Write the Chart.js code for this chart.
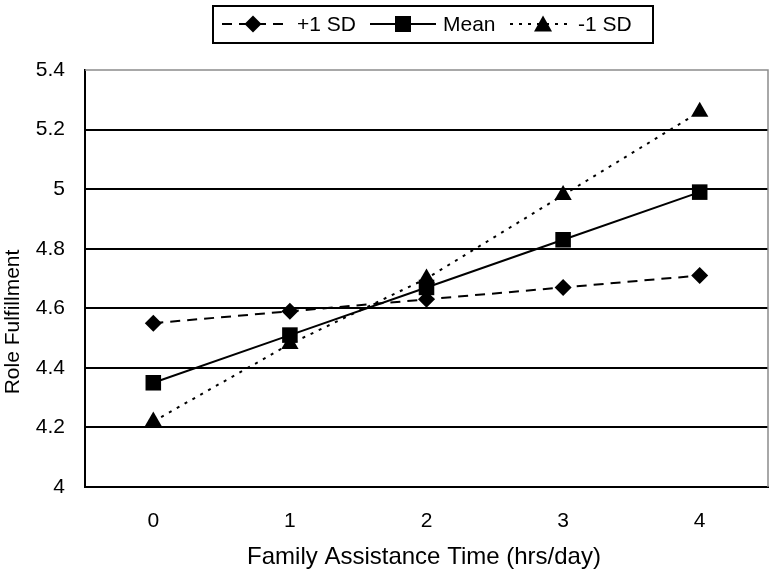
<!DOCTYPE html>
<html><head><meta charset="utf-8">
<script src="https://cdn.jsdelivr.net/npm/chart.js@4/dist/chart.umd.min.js"></script>
<style>html,body{margin:0;padding:0;background:#fff}#wrap{width:779px;height:582px}</style>
</head><body><div id="wrap"><canvas id="c" width="779" height="582"></canvas></div>
<script>
const categories = ['0', '1', '2', '3', '4'];
const plusSD = [4.55, 4.59, 4.63, 4.67, 4.71];
const meanVals = [4.35, 4.51, 4.67, 4.83, 4.99];
const minusSD = [4.22, 4.48, 4.70, 4.98, 5.26];
const seriesNames = ['+1 SD', 'Mean', '-1 SD'];
const yTicks = [4, 4.2, 4.4, 4.6, 4.8, 5, 5.2, 5.4];
const xTitle = 'Family Assistance Time (hrs/day)';
const yTitle = 'Role Fulfillment';

const FONT = '"Liberation Sans", Arial, sans-serif';

function drawMarker(ctx, style, x, y) {
  ctx.save();
  ctx.fillStyle = '#000';
  ctx.setLineDash([]);
  ctx.beginPath();
  if (style === 'diamond') {
    const r = 8.5;
    ctx.moveTo(x, y - r); ctx.lineTo(x + r, y); ctx.lineTo(x, y + r); ctx.lineTo(x - r, y);
  } else if (style === 'square') {
    const s = 8;
    ctx.rect(x - s, y - s, 2 * s, 2 * s);
  } else {
    const w = 9, h = 15;
    ctx.moveTo(x, y - h / 2 - 1); ctx.lineTo(x + w, y + h / 2); ctx.lineTo(x - w, y + h / 2);
  }
  ctx.closePath();
  ctx.fill();
  ctx.restore();
}

const customPlugin = {
  id: 'custom',
  afterDraw(chart) {
    const ctx = chart.ctx;
    const a = chart.chartArea;
    ctx.save();
    // gray top/right frame
    ctx.strokeStyle = '#8c8c8c';
    ctx.lineWidth = 1.5;
    ctx.beginPath();
    ctx.moveTo(a.left, a.top); ctx.lineTo(a.right, a.top); ctx.lineTo(a.right, a.bottom);
    ctx.stroke();

    // axis titles
    ctx.fillStyle = '#000';
    ctx.font = '21px ' + FONT;
    ctx.textAlign = 'center';
    ctx.textBaseline = 'middle';
    ctx.save();
    ctx.translate(13, 322);
    ctx.rotate(-Math.PI / 2);
    ctx.fillText(yTitle, 0, 0);
    ctx.restore();
    ctx.font = '24px ' + FONT;
    ctx.fillText(xTitle, 424, 557);

    // legend
    ctx.strokeStyle = '#000';
    ctx.lineWidth = 2;
    ctx.strokeRect(213, 6, 440, 37);
    const items = [
      {name: seriesNames[0], x0: 222, x1: 283, m: 253, tx: 297, dash: [10, 7], style: 'diamond'},
      {name: seriesNames[1], x0: 370, x1: 436, m: 403, tx: 443, dash: [], style: 'square'},
      {name: seriesNames[2], x0: 510, x1: 572, m: 543, tx: 578, dash: [3, 6], style: 'triangle'}
    ];
    const ly = 24;
    ctx.font = '21px ' + FONT;
    ctx.textAlign = 'left';
    items.forEach(it => {
      ctx.save();
      ctx.strokeStyle = '#000';
      ctx.lineWidth = 2;
      ctx.setLineDash(it.dash);
      ctx.beginPath();
      ctx.moveTo(it.x0, ly); ctx.lineTo(it.x1, ly);
      ctx.stroke();
      ctx.restore();
      drawMarker(ctx, it.style, it.m, ly);
      ctx.fillStyle = '#000';
      ctx.fillText(it.name, it.tx, ly + 1);
    });
    ctx.restore();
  }
};

new Chart(document.getElementById('c'), {
  type: 'line',
  data: {
    labels: categories,
    datasets: [
      {label: seriesNames[0], data: plusSD, borderColor: '#000', backgroundColor: '#000', borderWidth: 2,
       borderDash: [10, 7], pointStyle: 'rectRot', pointRadius: 8.5, pointBorderWidth: 0, tension: 0},
      {label: seriesNames[1], data: meanVals, borderColor: '#000', backgroundColor: '#000', borderWidth: 2,
       pointStyle: 'rect', pointRadius: 11, pointBorderWidth: 0, tension: 0},
      {label: seriesNames[2], data: minusSD, borderColor: '#000', backgroundColor: '#000', borderWidth: 2,
       borderDash: [3, 6], pointStyle: 'triangle', pointRadius: 10, pointBorderWidth: 0, tension: 0}
    ]
  },
  options: {
    responsive: false,
    animation: false,
    layout: {padding: {top: 70, right: 7, left: 0, bottom: 0}},
    plugins: {legend: {display: false}, tooltip: {enabled: false}, title: {display: false}},
    scales: {
      x: {
        offset: true,
        grid: {display: false, drawTicks: false},
        border: {display: true, color: '#000', width: 2},
        ticks: {color: '#000', padding: 22, font: {family: FONT, size: 21}},
        afterFit(s) { s.height = 95; }
      },
      y: {
        min: 4, max: 5.4,
        afterBuildTicks(s) { s.ticks = yTicks.map(v => ({value: v})); },
        grid: {
          drawTicks: false,
          color: c => (c.tick && Math.abs(c.tick.value - 5.4) < 1e-6) ? 'rgba(0,0,0,0)' : '#000',
          lineWidth: 2
        },
        border: {display: true, color: '#000', width: 2},
        ticks: {color: '#000', padding: 20, font: {family: FONT, size: 21},
          callback: v => String(Number(Number(v).toFixed(1)))},
        afterFit(s) { s.width = 85; }
      }
    }
  },
  plugins: [customPlugin]
});
</script>
</body></html>
